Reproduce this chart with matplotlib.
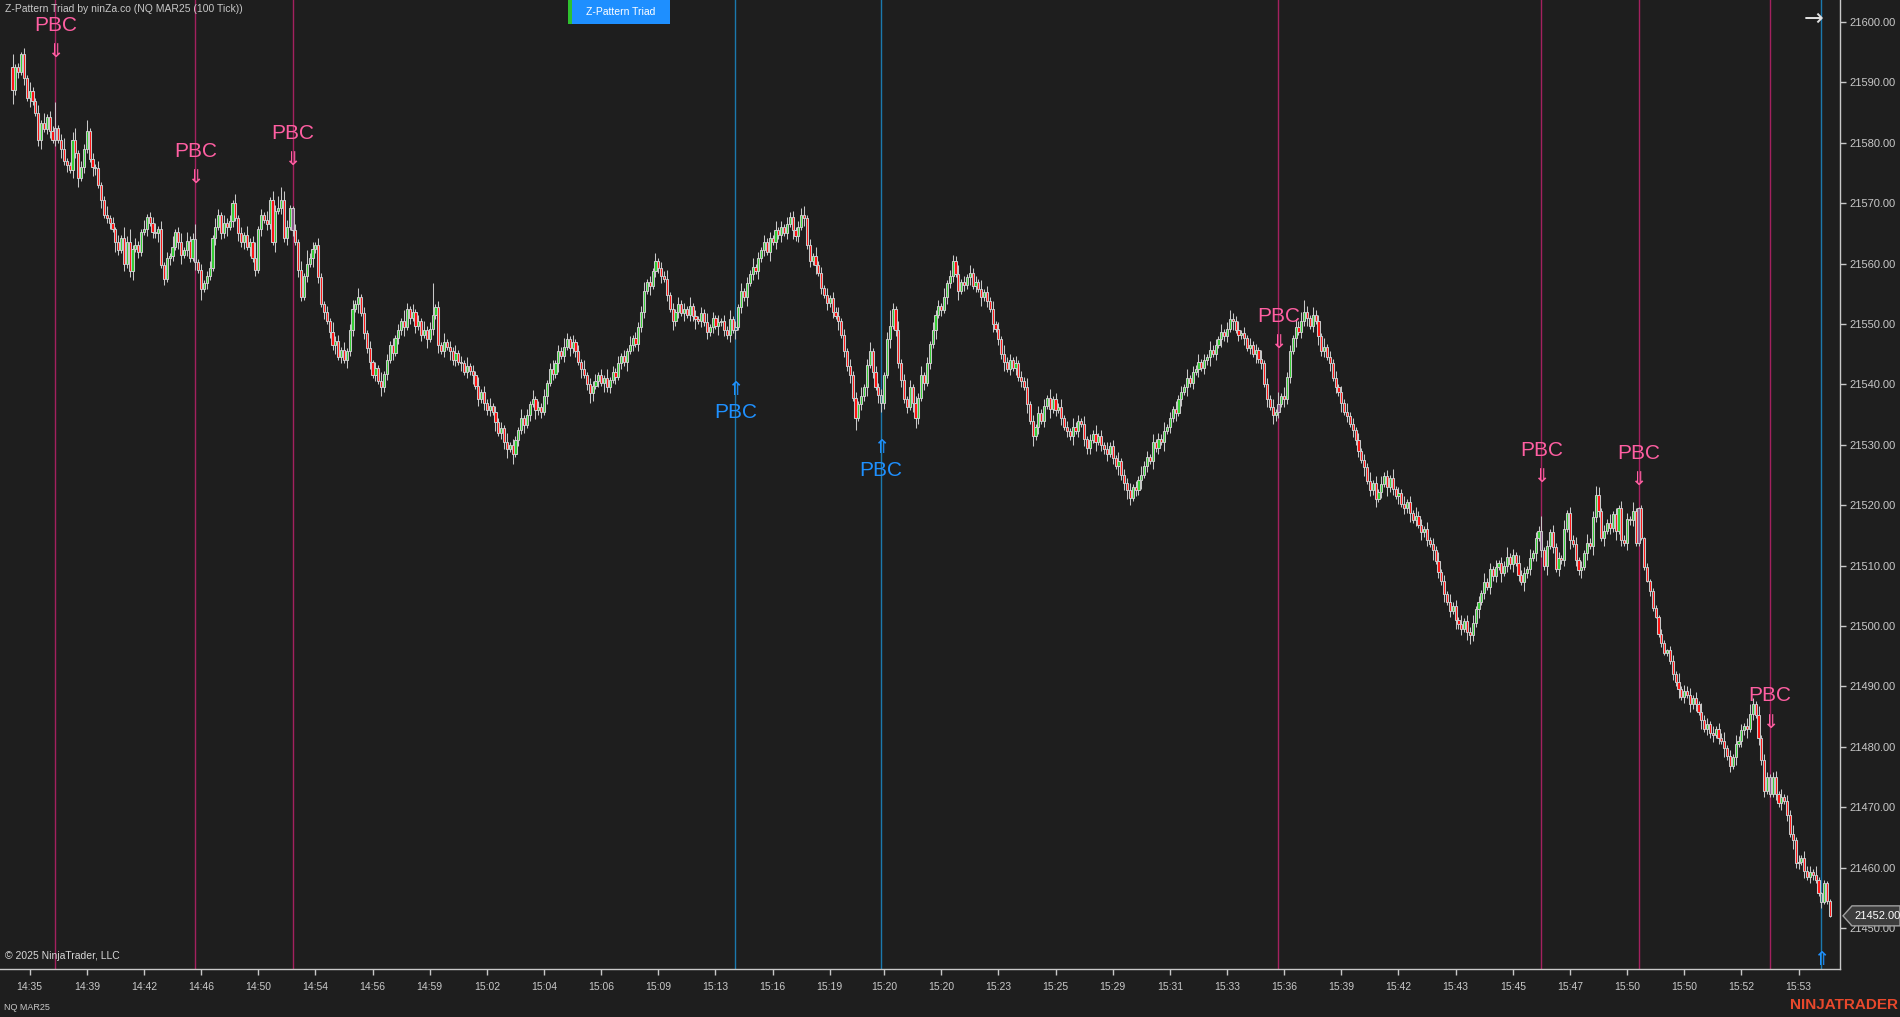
import matplotlib

matplotlib.use("Agg")

import matplotlib.pyplot as plt
from matplotlib.patches import Polygon, Rectangle

# NQ MAR25, 100 tick bars (points)
first_open = 21592.5
closes = [
    21588.75, 21592.5, 21591.75, 21594.75, 21590.75, 21587.5, 21588.5, 21587.0, 21585.0, 21580.5,
    21583.25, 21582.25, 21584.25, 21582.0, 21580.5, 21582.5, 21580.5, 21579.0, 21577.0, 21576.25,
    21575.5, 21580.5, 21578.25, 21574.25, 21576.0, 21579.0, 21582.0, 21577.25, 21576.0, 21575.75,
    21573.0, 21570.5, 21568.0, 21567.5, 21566.75, 21565.75, 21563.5, 21562.25, 21564.25, 21560.0,
    21563.5, 21558.75, 21562.5, 21563.0, 21562.0, 21565.25, 21565.75, 21567.75, 21566.75, 21565.25,
    21565.0, 21565.75, 21559.75, 21557.5, 21561.0, 21561.25, 21562.75, 21565.25, 21563.5, 21561.5,
    21562.25, 21563.75, 21561.0, 21564.0, 21560.25, 21559.0, 21555.75, 21556.75, 21558.0, 21559.25,
    21564.25, 21566.0, 21568.0, 21565.0, 21566.75, 21566.0, 21567.0, 21570.0, 21567.5, 21565.0,
    21563.5, 21564.75, 21562.75, 21563.5, 21561.0, 21559.0, 21565.75, 21568.0, 21567.25, 21566.5,
    21570.5, 21563.5, 21568.75, 21569.25, 21570.5, 21564.25, 21566.0, 21569.25, 21565.5, 21563.5,
    21559.0, 21554.5, 21558.0, 21560.0, 21561.0, 21562.5, 21563.0, 21557.75, 21553.25, 21552.0,
    21550.5, 21548.75, 21546.5, 21547.25, 21544.5, 21545.75, 21544.0, 21545.5, 21549.0, 21552.5,
    21553.25, 21554.5, 21551.75, 21548.5, 21546.0, 21543.75, 21541.5, 21542.75, 21540.5, 21539.5,
    21541.75, 21544.0, 21546.5, 21545.25, 21547.75, 21549.0, 21550.5, 21549.5, 21552.5, 21551.0,
    21552.0, 21549.75, 21550.5, 21548.25, 21549.0, 21547.5, 21549.25, 21551.5, 21552.75, 21546.5,
    21545.5, 21547.0, 21546.25, 21545.5, 21544.0, 21545.25, 21543.75, 21543.5, 21542.0, 21543.0,
    21542.25, 21541.5, 21539.75, 21537.5, 21538.75, 21537.0, 21535.75, 21536.5, 21535.5, 21533.75,
    21532.0, 21532.75, 21530.5, 21529.25, 21530.0, 21528.5, 21530.75, 21532.5, 21534.5, 21533.25,
    21535.0, 21536.75, 21537.5, 21535.75, 21536.25, 21535.5, 21538.0, 21540.25, 21542.5, 21541.75,
    21543.5, 21545.5, 21544.75, 21546.25, 21547.5, 21546.0, 21547.0, 21545.5, 21543.75, 21542.5,
    21541.5, 21540.0, 21538.5, 21539.75, 21540.5, 21541.5, 21540.25, 21541.0, 21539.5, 21540.75,
    21542.0, 21541.25, 21543.5, 21544.75, 21543.75, 21545.5, 21546.5, 21547.75, 21546.75, 21549.5,
    21552.0, 21555.5, 21557.0, 21556.25, 21558.75, 21560.5, 21559.25, 21558.0, 21557.5, 21554.75,
    21552.5, 21550.5, 21552.0, 21553.25, 21551.75, 21552.5, 21551.5, 21553.0, 21551.25, 21550.75,
    21550.5, 21551.75, 21550.25, 21548.75, 21549.5, 21551.0, 21549.75, 21550.25, 21550.5, 21549.0,
    21548.25, 21550.75, 21549.0, 21549.5, 21552.75, 21555.5, 21554.5, 21556.75, 21558.25, 21559.5,
    21558.75, 21561.0, 21562.25, 21563.5, 21562.0, 21564.25, 21563.5, 21565.5, 21564.75, 21566.0,
    21565.0, 21566.5, 21567.75, 21565.5, 21564.5, 21566.0, 21568.0, 21567.5, 21563.0, 21560.5,
    21561.25, 21559.75, 21558.5, 21556.0, 21554.75, 21553.5, 21554.25, 21552.0, 21551.25, 21550.5,
    21548.25, 21545.5, 21543.0, 21541.5, 21537.75, 21534.5, 21536.75, 21538.0, 21539.5, 21543.25,
    21545.5, 21542.0, 21539.5, 21538.25, 21537.0, 21541.5, 21547.5, 21549.75, 21552.5, 21549.0,
    21543.5, 21540.75, 21537.5, 21536.25, 21539.5, 21537.0, 21534.5, 21537.75, 21541.5, 21540.25,
    21543.5, 21546.75, 21549.0, 21551.5, 21553.0, 21552.25, 21554.5, 21556.75, 21558.0, 21560.5,
    21558.25, 21555.5, 21557.0, 21556.5, 21557.75, 21558.5, 21556.25, 21557.0, 21555.75, 21554.5,
    21555.25, 21553.75, 21552.5, 21550.0, 21549.25, 21547.5, 21545.0, 21543.75, 21542.5, 21544.0,
    21542.75, 21543.5, 21541.25, 21540.5, 21539.5, 21536.75, 21534.0, 21531.5, 21533.0, 21535.25,
    21534.0, 21536.5, 21537.75, 21536.0, 21537.5, 21535.75, 21536.25, 21534.5, 21533.0, 21532.25,
    21531.5, 21533.0, 21532.25, 21534.0, 21533.5, 21531.0, 21529.5, 21530.75, 21531.75, 21530.5,
    21531.5, 21530.0, 21529.25, 21528.5, 21529.75, 21527.75, 21526.5, 21527.25, 21525.0, 21523.75,
    21522.5, 21521.25, 21523.0, 21522.5, 21524.25, 21525.0, 21526.5, 21528.0, 21527.25, 21530.5,
    21529.5, 21531.0, 21530.5, 21532.25, 21533.0, 21534.5, 21536.0, 21535.25, 21537.5, 21538.75,
    21539.5, 21541.0, 21540.25, 21542.0, 21542.5, 21543.75, 21542.75, 21544.0, 21544.5, 21545.75,
    21545.0, 21546.5, 21547.5, 21548.75, 21548.0, 21549.25, 21550.75, 21550.5, 21549.0, 21548.25,
    21548.5, 21547.75, 21546.0, 21546.5, 21545.0, 21545.75, 21544.25, 21543.5, 21540.0, 21537.5,
    21536.25, 21535.0, 21535.5, 21536.75, 21538.0, 21537.5, 21541.25, 21545.5, 21547.75, 21549.5,
    21548.75, 21550.5, 21552.0, 21551.0, 21549.75, 21551.5, 21550.5, 21548.0, 21545.5, 21546.25,
    21544.5, 21543.5, 21541.0, 21539.5, 21538.75, 21537.0, 21535.5, 21534.75, 21533.5, 21532.5,
    21530.75, 21529.0, 21527.5, 21526.25, 21524.0, 21522.5, 21523.75, 21521.0, 21522.25, 21523.5,
    21524.75, 21523.0, 21524.5, 21522.75, 21521.5, 21522.0, 21520.25, 21519.5, 21520.5, 21518.75,
    21517.5, 21518.25, 21516.75, 21515.5, 21516.0, 21514.25, 21513.5, 21512.5, 21510.75, 21509.0,
    21507.5, 21505.25, 21504.0, 21502.5, 21503.25, 21501.0, 21500.25, 21499.5, 21500.75, 21499.0,
    21498.5, 21500.5, 21502.75, 21504.0, 21505.5, 21507.25, 21506.5, 21509.5, 21508.25, 21509.75,
    21510.5, 21508.75, 21510.0, 21511.5, 21510.25, 21511.75, 21510.5, 21508.5, 21507.25, 21508.75,
    21509.5, 21511.25, 21512.0, 21514.5, 21515.75, 21512.5, 21510.0, 21513.25, 21515.5, 21513.0,
    21509.5, 21511.25, 21511.0, 21516.0, 21518.75, 21514.25, 21513.5, 21511.0, 21509.25, 21509.75,
    21512.0, 21513.75, 21513.25, 21518.0, 21521.75, 21519.0, 21514.5, 21515.75, 21517.0, 21516.25,
    21518.5, 21515.75, 21519.5, 21514.25, 21513.75, 21517.75, 21517.5, 21519.0, 21513.75, 21519.5,
    21514.5, 21509.75, 21507.5, 21505.75, 21503.0, 21501.5, 21498.75, 21497.25, 21495.5, 21496.0,
    21494.25, 21492.0, 21490.75, 21489.5, 21488.25, 21489.25, 21488.5, 21487.0, 21488.0, 21487.0,
    21485.75, 21484.5, 21483.0, 21483.75, 21482.25, 21482.0, 21483.0, 21481.5, 21481.0, 21479.75,
    21478.5, 21476.75, 21478.25, 21480.5, 21481.0, 21482.75, 21483.5, 21483.0, 21485.5, 21487.0,
    21485.25, 21481.5, 21477.75, 21472.75, 21475.0, 21472.25, 21475.0, 21472.25, 21470.75, 21471.75,
    21471.0, 21468.75, 21465.5, 21464.5, 21460.75, 21461.0, 21461.5, 21459.5, 21458.5, 21459.25,
    21458.75, 21458.0, 21455.75, 21454.25, 21457.5, 21454.5, 21452.0,
]

# wick lengths beyond the body (points)
wick_up = [
    2.25, 0.5, 0.75, 0.25, 1.0, 0.5, 1.5, 0.75, 0.5, 1.25, 0.5, 1.75, 0.5, 1.0, 0.75, 4.25, 0.5, 1.0, 1.75, 0.5,
    0.5, 1.25, 2.0, 0.5, 1.0, 0.75, 1.75, 0.5, 1.0, 0.5, 1.25, 0.5, 0.75, 1.5, 0.5, 1.0, 0.25, 1.25, 0.5, 1.75,
    1.0, 2.25, 0.5, 1.25, 0.75, 0.5, 1.5, 0.5, 0.75, 1.0, 1.5, 0.5, 1.25, 0.5, 1.0, 0.5, 1.75, 0.5, 0.75, 1.5,
    0.5, 1.5, 0.75, 1.0, 2.5, 0.5, 1.0, 0.5, 0.75, 1.25, 0.5, 1.5, 1.0, 0.5, 1.25, 0.75, 1.0, 0.5, 1.5, 0.5,
    1.0, 0.5, 1.5, 0.75, 1.0, 2.5, 0.5, 1.0, 0.5, 1.5, 0.5, 1.5, 1.0, 2.0, 2.25, 1.5, 1.25, 0.5, 0.25, 1.0,
    0.5, 1.5, 0.5, 2.25, 0.75, 1.0, 0.5, 1.25, 0.75, 0.5, 1.0, 0.5, 1.5, 0.75, 1.0, 0.5, 1.25, 0.5, 1.0, 1.5,
    0.75, 1.5, 0.5, 1.0, 0.5, 1.25, 0.25, 1.0, 0.5, 1.5, 0.5, 1.0, 0.75, 1.25, 0.5, 1.0, 0.5, 1.75, 1.0, 0.5,
    1.25, 0.5, 1.0, 0.5, 1.5, 0.75, 1.0, 5.25, 0.5, 1.0, 0.5, 1.5, 0.5, 1.0, 0.75, 1.25, 0.5, 1.0, 0.5, 1.5,
    0.5, 1.0, 0.75, 1.5, 0.5, 1.0, 0.5, 1.25, 0.5, 1.0, 0.75, 1.0, 0.5, 1.5, 0.5, 1.0, 0.75, 0.5, 1.5, 0.5,
    1.0, 0.5, 1.5, 0.5, 1.0, 0.75, 1.25, 0.5, 1.0, 1.5, 0.5, 1.0, 0.75, 1.5, 1.0, 0.5, 1.25, 0.5, 1.0, 0.5,
    1.5, 0.5, 1.0, 0.75, 1.25, 0.5, 1.0, 0.5, 1.5, 0.5, 1.0, 0.75, 1.25, 0.5, 1.0, 0.5, 1.5, 0.5, 1.0, 0.75,
    1.0, 1.5, 0.5, 1.0, 0.5, 1.25, 0.5, 1.0, 0.75, 1.5, 0.5, 1.0, 0.5, 1.25, 0.75, 1.0, 0.5, 1.5, 0.5, 1.0,
    0.5, 1.0, 0.75, 1.5, 0.5, 1.0, 0.5, 1.25, 0.5, 1.0, 0.75, 1.5, 0.5, 1.0, 0.5, 1.25, 0.5, 1.0, 0.75, 1.5,
    0.5, 1.0, 0.5, 1.25, 0.75, 1.0, 0.5, 1.5, 0.5, 1.0, 0.5, 1.25, 0.75, 1.0, 0.5, 1.0, 1.25, 1.5, 0.5, 1.0,
    0.5, 1.5, 0.75, 1.0, 0.5, 1.25, 0.5, 1.0, 0.75, 1.5, 0.5, 1.0, 0.5, 1.25, 0.75, 1.0, 0.5, 1.5, 0.5, 1.0,
    1.5, 0.5, 1.0, 0.75, 1.0, 0.5, 1.25, 2.5, 1.0, 0.5, 1.5, 0.75, 1.0, 0.5, 1.25, 0.5, 1.0, 0.75, 1.5, 0.5,
    1.0, 0.5, 1.25, 0.75, 1.0, 0.5, 1.5, 0.5, 1.0, 1.0, 0.75, 1.5, 0.5, 1.0, 0.5, 1.25, 0.75, 1.0, 0.5, 1.5,
    0.5, 1.0, 0.75, 1.25, 0.5, 1.0, 0.5, 1.5, 0.75, 1.0, 0.5, 1.25, 0.5, 1.0, 0.75, 1.5, 0.5, 1.0, 0.5, 1.25,
    0.75, 1.0, 0.5, 1.5, 0.5, 1.0, 0.75, 1.25, 0.5, 1.0, 0.5, 1.5, 0.75, 1.0, 0.5, 1.25, 0.5, 1.0, 0.75, 1.5,
    0.5, 1.0, 0.5, 1.25, 0.75, 1.0, 0.5, 1.5, 0.5, 1.0, 0.75, 1.25, 0.5, 1.0, 0.5, 1.5, 0.75, 1.0, 0.5, 1.25,
    0.5, 1.0, 0.75, 1.5, 0.5, 1.0, 0.5, 1.25, 0.75, 1.0, 0.5, 1.5, 0.5, 1.0, 0.75, 1.25, 0.5, 1.0, 0.5, 1.5,
    0.75, 1.0, 0.5, 1.25, 0.5, 1.0, 1.5, 1.0, 0.75, 1.5, 0.5, 1.0, 0.5, 1.25, 0.75, 1.0, 0.5, 1.5, 0.5, 1.0,
    0.75, 1.25, 0.5, 2.0, 0.5, 1.5, 0.75, 1.0, 0.5, 1.25, 1.0, 1.5, 2.0, 1.0, 0.5, 1.25, 0.75, 1.0, 0.5, 1.5,
    0.5, 1.0, 0.75, 1.25, 0.5, 1.0, 0.5, 1.5, 0.75, 1.0, 0.5, 1.25, 0.5, 1.0, 0.75, 1.5, 0.5, 1.0, 0.5, 1.25,
    0.75, 1.0, 0.5, 1.5, 0.5, 1.0, 0.75, 1.25, 0.5, 1.0, 0.5, 1.5, 0.75, 1.0, 0.5, 1.25, 0.5, 1.0, 0.75, 1.5,
    0.5, 1.0, 0.5, 1.25, 0.75, 1.0, 0.5, 1.5, 0.5, 1.0, 0.75, 1.25, 0.5, 1.0, 0.5, 1.5, 0.75, 1.0, 0.5, 1.25,
    0.5, 1.0, 0.75, 1.5, 0.5, 1.0, 0.5, 1.25, 0.75, 1.0, 0.5, 1.5, 0.5, 1.0, 0.75, 2.5, 0.5, 1.0, 0.5, 1.25,
    0.75, 1.0, 0.5, 1.5, 0.5, 1.0, 0.75, 1.25, 0.5, 1.0, 0.5, 1.5, 0.75, 1.0, 1.5, 1.25, 0.5, 1.0, 0.75, 1.5,
    0.5, 1.0, 0.5, 1.25, 0.75, 1.0, 0.5, 1.5, 0.5, 0.25, 0.5, 0.25, 0.75, 0.25, 0.5, 0.5, 0.25, 0.75, 0.5, 0.25,
    0.75, 1.0, 0.5, 1.5, 0.5, 1.0, 0.75, 1.25, 0.5, 1.0, 0.5, 1.5, 0.75, 1.0, 0.5, 1.25, 0.5, 1.0, 0.75, 1.5,
    0.5, 1.0, 0.5, 1.5, 0.75, 1.0, 0.5, 1.25, 1.5, 1.0, 0.5, 1.5, 0.5, 1.0, 0.75, 0.5, 0.75, 1.0, 0.5, 1.25,
    0.5, 1.0, 0.75, 1.5, 0.5, 1.0, 0.5, 1.25, 0.75, 1.0, 0.5, 1.5, 0.5, 0.25, 0.5, 0.25, 0.25,
]
wick_dn = [
    2.25, 0.75, 1.0, 0.5, 1.25, 0.5, 1.5, 0.75, 0.5, 1.0, 1.5, 0.5, 0.75, 1.25, 0.5, 1.0, 0.5, 1.5, 0.75, 1.0,
    0.5, 1.25, 0.75, 1.5, 0.5, 1.0, 0.75, 0.5, 1.5, 1.0, 0.5, 1.25, 0.5, 0.75, 1.0, 0.5, 1.5, 0.75, 0.5, 1.25,
    0.75, 1.0, 1.5, 0.5, 1.0, 0.75, 0.5, 1.25, 0.5, 1.0, 0.75, 1.5, 0.5, 1.0, 0.5, 1.25, 0.75, 0.5, 1.0, 1.5,
    0.5, 1.0, 0.75, 0.5, 1.25, 0.5, 1.75, 0.5, 1.0, 0.75, 0.5, 1.25, 0.5, 1.0, 0.75, 1.5, 0.5, 1.0, 0.5, 1.25,
    0.75, 1.0, 0.5, 1.5, 0.75, 1.0, 0.5, 1.25, 0.5, 1.0, 0.75, 0.5, 1.5, 0.5, 1.0, 0.75, 1.25, 0.5, 1.0, 0.5,
    1.25, 0.75, 0.5, 1.0, 0.5, 1.5, 0.75, 1.0, 0.5, 1.25, 0.5, 1.0, 0.75, 1.5, 0.5, 1.0, 0.5, 1.25, 0.75, 1.0,
    0.5, 1.5, 0.5, 1.0, 0.75, 1.25, 0.5, 1.0, 0.5, 1.5, 0.75, 1.0, 0.5, 1.25, 0.5, 1.0, 0.75, 1.5, 0.5, 1.0,
    0.5, 1.25, 0.75, 1.0, 0.5, 1.5, 0.5, 1.0, 0.75, 1.25, 0.5, 1.0, 0.5, 1.5, 0.75, 1.0, 0.5, 1.25, 0.5, 1.0,
    0.75, 1.5, 0.5, 1.0, 0.5, 1.25, 0.75, 1.0, 0.5, 1.5, 0.5, 1.0, 1.25, 1.5, 0.5, 1.75, 0.5, 1.0, 0.75, 1.25,
    0.5, 1.0, 0.5, 1.5, 0.75, 1.0, 0.5, 1.25, 0.5, 1.0, 0.75, 1.5, 0.5, 1.0, 0.5, 1.25, 0.75, 1.0, 0.5, 1.5,
    0.5, 1.0, 1.5, 1.25, 0.5, 1.0, 0.5, 1.5, 0.75, 1.0, 0.5, 1.25, 0.5, 1.0, 0.75, 1.5, 0.5, 1.0, 0.5, 1.25,
    0.75, 1.0, 0.5, 1.5, 0.5, 1.0, 0.75, 1.25, 0.5, 1.0, 0.5, 1.5, 0.75, 1.0, 0.5, 1.25, 0.5, 1.0, 0.75, 1.5,
    0.5, 1.0, 0.5, 1.25, 0.75, 1.0, 0.5, 1.5, 0.5, 1.0, 0.75, 1.25, 0.5, 1.5, 0.5, 1.0, 0.75, 1.5, 0.5, 1.0,
    0.5, 1.25, 0.75, 1.0, 0.5, 1.5, 0.5, 1.0, 0.75, 1.25, 0.5, 1.0, 0.5, 1.5, 0.75, 1.0, 0.5, 1.25, 0.5, 1.0,
    0.75, 1.5, 0.5, 1.0, 0.5, 1.25, 0.75, 1.0, 0.5, 1.5, 0.5, 1.0, 0.75, 1.25, 0.5, 2.0, 0.5, 1.0, 0.75, 1.5,
    0.5, 1.0, 0.5, 1.25, 1.5, 1.0, 0.5, 1.5, 0.5, 1.0, 0.75, 1.25, 0.5, 1.0, 0.5, 1.5, 1.75, 1.0, 0.5, 1.25,
    0.5, 1.0, 0.75, 1.5, 0.5, 1.0, 0.5, 1.25, 0.75, 1.0, 0.5, 1.5, 0.5, 1.0, 0.75, 1.25, 0.5, 1.0, 0.5, 1.5,
    0.75, 1.0, 0.5, 1.25, 0.5, 1.0, 0.75, 1.5, 0.5, 1.0, 0.5, 1.25, 0.75, 1.0, 0.5, 1.5, 0.5, 1.75, 0.75, 1.25,
    0.5, 1.0, 0.5, 1.5, 0.75, 1.0, 0.5, 1.25, 0.5, 1.0, 0.75, 1.5, 0.5, 1.0, 0.5, 1.25, 1.0, 1.0, 0.5, 1.5,
    0.5, 1.0, 0.75, 1.25, 0.5, 1.0, 0.5, 1.5, 0.75, 1.25, 1.5, 1.25, 0.5, 1.0, 0.75, 1.5, 0.5, 1.0, 0.5, 1.25,
    0.75, 1.0, 0.5, 1.5, 0.5, 1.0, 0.75, 1.25, 0.5, 1.0, 0.5, 1.5, 0.75, 1.0, 0.5, 1.25, 0.5, 1.0, 0.75, 1.5,
    0.5, 1.0, 0.5, 1.25, 0.75, 1.0, 0.5, 1.5, 0.5, 1.0, 0.75, 1.25, 0.5, 1.0, 0.5, 1.5, 0.75, 1.0, 0.5, 1.25,
    0.5, 1.5, 1.0, 1.0, 0.5, 1.25, 0.75, 1.0, 0.5, 1.5, 0.5, 1.0, 0.75, 1.25, 0.5, 1.0, 0.5, 1.5, 0.75, 1.0,
    0.5, 1.25, 0.5, 1.0, 0.75, 1.5, 0.5, 1.0, 0.5, 1.25, 0.75, 1.0, 0.5, 1.5, 0.5, 1.0, 0.75, 1.25, 0.5, 1.0,
    0.5, 1.5, 0.75, 1.0, 0.5, 1.25, 0.5, 1.0, 0.75, 1.5, 0.5, 1.0, 0.5, 1.25, 0.75, 1.0, 0.5, 1.5, 0.5, 1.0,
    0.75, 1.25, 0.5, 1.0, 0.5, 1.5, 0.75, 1.0, 0.5, 1.25, 1.5, 1.0, 0.75, 1.5, 0.5, 1.0, 0.5, 1.25, 0.75, 1.0,
    0.5, 1.5, 0.5, 1.0, 0.75, 1.25, 0.5, 1.0, 0.5, 1.5, 0.75, 1.0, 0.5, 1.25, 0.5, 1.0, 0.75, 1.5, 0.5, 1.0,
    0.5, 1.25, 0.75, 1.0, 0.5, 1.5, 0.5, 1.0, 0.75, 1.25, 0.5, 1.0, 0.5, 1.5, 0.75, 1.0, 0.5, 1.25, 0.5, 1.0,
    0.75, 1.5, 0.5, 1.0, 0.5, 1.25, 0.75, 1.0, 0.5, 0.5, 0.25, 0.5, 0.25, 0.75, 0.5, 0.25, 0.5, 0.75, 0.25, 0.5,
    0.5, 1.0, 0.75, 1.5, 0.5, 1.0, 0.5, 1.25, 0.75, 1.0, 0.5, 1.5, 0.5, 1.0, 0.75, 1.25, 0.5, 1.0, 0.5, 1.5,
    0.75, 1.0, 0.5, 1.25, 0.5, 1.0, 0.75, 1.5, 0.5, 1.0, 0.5, 1.25, 0.75, 1.0, 0.5, 0.5, 0.5, 1.0, 0.75, 1.25,
    0.5, 1.0, 0.5, 1.5, 0.75, 1.0, 0.5, 1.25, 0.5, 1.0, 0.75, 0.5, 0.5, 1.0, 0.25, 0.5, 0.25,
]

# PBC signals: bar index, direction, arrow price, whether the label is on screen
signal_bars = [15, 64, 98, 253, 304, 443, 535, 569, 615, 633]
signal_dirs = ["down", "down", "down", "up", "up", "down", "down", "down", "down", "up"]
signal_prices = [21595.2, 21574.3, 21577.2, 21539.1, 21529.6, 21546.9, 21524.7, 21524.3, 21484.1, 21444.7]
signal_labelled = [True, True, True, True, True, True, True, True, True, False]

tick_bars = [6, 26, 46, 66, 86, 106, 126, 146, 166, 186, 206, 226, 246, 266, 286, 305,
             325, 345, 365, 385, 405, 425, 445, 465, 485, 505, 525, 545, 565, 585, 605, 625]
tick_labels = ["14:35", "14:39", "14:42", "14:46", "14:50", "14:54", "14:56", "14:59",
               "15:02", "15:04", "15:06", "15:09", "15:13", "15:16", "15:19", "15:20",
               "15:20", "15:23", "15:25", "15:29", "15:31", "15:33", "15:36", "15:39",
               "15:42", "15:43", "15:45", "15:47", "15:50", "15:50", "15:52", "15:53"]
price_ticks = [21450, 21460, 21470, 21480, 21490, 21500, 21510, 21520,
               21530, 21540, 21550, 21560, 21570, 21580, 21590, 21600]

assert len(closes) == len(wick_up) == len(wick_dn), (len(closes), len(wick_up), len(wick_dn))

W, H, DPI = 1900, 1017, 100
BG = "#1e1e1e"
FG = "#c8c8c8"
UP = "#32cd32"
DOWN = "#ff1010"
PINK = "#ff5fa2"
BLUE = "#1e90ff"
FONT = ["Liberation Sans", "DejaVu Sans"]

opens = [first_open] + closes[:-1]
highs = [max(o, c) + w for o, c, w in zip(opens, closes, wick_up)]
lows = [min(o, c) - w for o, c, w in zip(opens, closes, wick_dn)]
n = len(closes)
xs = list(range(n))

fig = plt.figure(figsize=(W / DPI, H / DPI), dpi=DPI, facecolor=BG)
ax = fig.add_axes([0, 48 / H, 1840 / W, 969 / H], facecolor=BG)

# bar 0 sits at x=12.5px, last bar at ~1830px
step = (1830 - 12.5) / (n - 1)
ax.set_xlim(-12.5 / step, (1840 - 12.5) / step)
ax.set_ylim(21443.2, 21603.65)

# signal lines
for b, d in zip(signal_bars, signal_dirs):
    ax.axvline(b, color="#a3215f" if d == "down" else "#1b79ad", lw=1, zorder=1)

# candles
ax.vlines(xs, lows, highs, color=FG, lw=0.75, zorder=2)
fills = [UP if c > o else DOWN if c < o else FG for o, c in zip(opens, closes)]
for b, d in zip(signal_bars, signal_dirs):
    fills[b] = "#8a5688" if d == "down" else "#23737c"
ax.bar(xs, [c - o for o, c in zip(opens, closes)], bottom=opens, width=0.75,
       color=fills, edgecolor=FG, linewidth=0.75, zorder=3)

# PBC markers
for b, d, p, lab in zip(signal_bars, signal_dirs, signal_prices, signal_labelled):
    col = PINK if d == "down" else BLUE
    ax.text(b, p, "\u21d3" if d == "down" else "\u21d1", ha="center", va="center",
            color=col, fontsize=14, family="DejaVu Sans", zorder=4, clip_on=True)
    if lab:
        ax.annotate("PBC", (b, p), xytext=(0, 26 if d == "down" else -23),
                    textcoords="offset pixels", ha="center", va="center", color=col,
                    fontsize=15, family=FONT, zorder=4)

# axes styling
for side in ("left", "top"):
    ax.spines[side].set_visible(False)
for side in ("right", "bottom"):
    ax.spines[side].set_color(FG)
    ax.spines[side].set_linewidth(1)
ax.yaxis.tick_right()
ax.set_yticks(price_ticks)
ax.set_yticklabels([f"{v:.2f}" for v in price_ticks])
ax.set_xticks(tick_bars)
ax.set_xticklabels(tick_labels)
ax.tick_params(axis="y", colors=FG, length=4, width=1, pad=3, labelsize=8)
ax.tick_params(axis="x", colors=FG, length=4.5, width=1, pad=5, labelsize=7.5)
for lbl in ax.get_xticklabels() + ax.get_yticklabels():
    lbl.set_family(FONT)

# last price marker
fig.canvas.draw()
py = ax.transData.transform((0, closes[-1]))[1]
ax_right = 1840
marker = Polygon([(ax_right + 3, py), (ax_right + 12, py + 10), (W, py + 10), (W, py - 10),
                  (ax_right + 12, py - 10)], closed=True, transform=None,
                 facecolor="#3c3c3c", edgecolor="#a0a0a0", lw=1, zorder=5)
fig.patches.append(marker)
fig.text((ax_right + 14) / W, py / H, f"{closes[-1]:.2f}", ha="left", va="center",
         color="white", fontsize=8, family=FONT, zorder=6)

# chrome
fig.text(5 / W, 1 - 9 / H, "Z-Pattern Triad by ninZa.co (NQ MAR25 (100 Tick))",
         ha="left", va="center", color=FG, fontsize=7.5, family=FONT)
fig.patches.append(Rectangle((568 / W, 1 - 24 / H), 4 / W, 24 / H, transform=fig.transFigure,
                             facecolor="#2fc12f", edgecolor="none"))
fig.patches.append(Rectangle((572 / W, 1 - 24 / H), 98 / W, 24 / H, transform=fig.transFigure,
                             facecolor="#1e8fff", edgecolor="none"))
fig.text(621 / W, 1 - 12 / H, "Z-Pattern Triad", ha="center", va="center", color="white",
         fontsize=7.5, family=FONT)
fig.text(1814 / W, 1 - 19 / H, "\u2192", ha="center", va="center", color="#e0e0e0",
         fontsize=17, family="DejaVu Sans")
fig.text(5 / W, 1 - 956 / H, "\u00a9 2025 NinjaTrader, LLC", ha="left", va="center",
         color="#d8d8d8", fontsize=7.5, family=FONT)
fig.text(4 / W, 1 - 1007 / H, "NQ MAR25", ha="left", va="center", color=FG,
         fontsize=6.5, family=FONT)
fig.text(1898 / W, 1 - 1005 / H, "NINJATRADER", ha="right", va="center", color="#e8482c",
         fontsize=11, fontweight="bold", family=FONT)

fig.savefig("out.png", dpi=DPI, facecolor=BG)
